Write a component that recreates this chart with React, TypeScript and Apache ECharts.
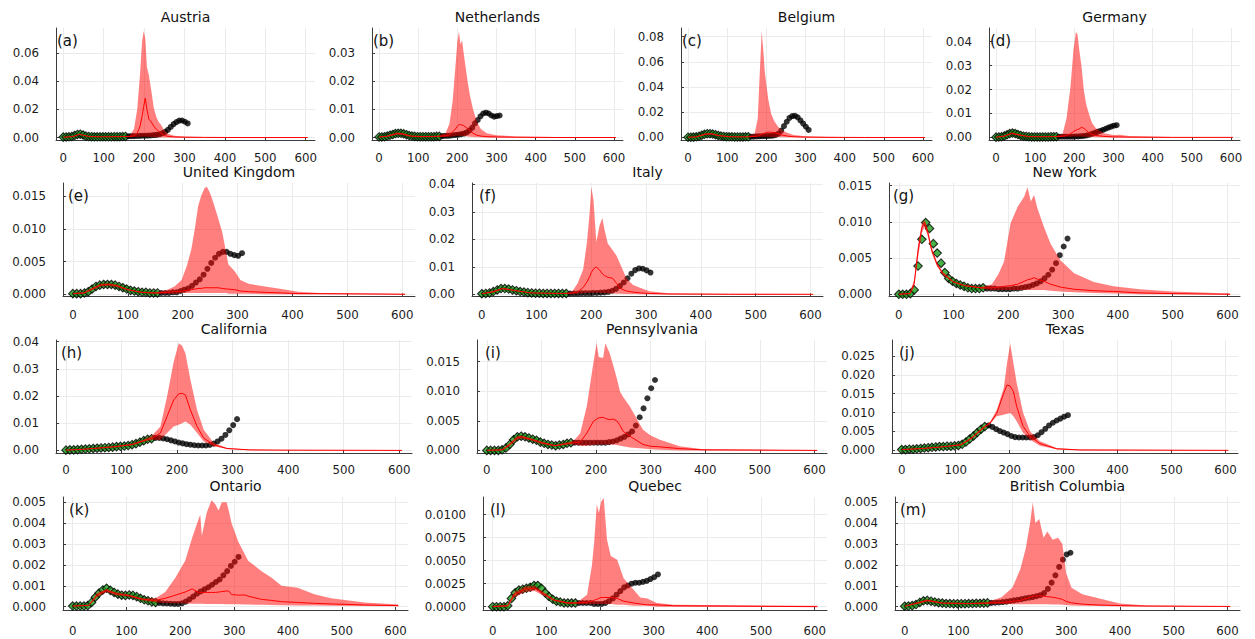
import { useEffect, useRef } from "react";
import * as echarts from "echarts";

const FONT = "DejaVu Sans";
const X_TICKS = [0, 100, 200, 300, 400, 500, 600];
const X_MIN = -18;
const X_MAX = 623;

const TRAIN_DAYS = [0, 7, 14, 21, 28, 35, 42, 49, 56, 63, 70, 77, 84, 91, 98, 105, 112, 119, 126, 133, 140, 147, 154];
const TEST_DAYS = [161, 168, 175, 182, 189, 196, 203, 210, 217, 224, 231, 238, 245, 252, 259, 266, 273, 280, 287, 294, 301, 308];

// band rows: [day, lower, median, upper]
const AUSTRIA_TRAIN = [0.0003, 0.0004, 0.0005, 0.0008, 0.0015, 0.0022, 0.0024, 0.0018, 0.001, 0.0007, 0.0006, 0.0005, 0.0005, 0.0005, 0.0005, 0.0005, 0.0005, 0.0005, 0.0006, 0.0006, 0.0006, 0.0007, 0.0008];
const AUSTRIA_TEST = [0.0009, 0.001, 0.001, 0.0011, 0.0012, 0.0013, 0.0013, 0.0014, 0.0015, 0.0017, 0.0019, 0.0023, 0.003, 0.004, 0.0055, 0.0075, 0.0095, 0.011, 0.012, 0.0121, 0.0112, 0.01];
const AUSTRIA_BAND = [
  [0, 0.0002, 0.0003, 0.0004], [20, 0.0004, 0.0005, 0.0007], [30, 0.001, 0.0013, 0.0016], [40, 0.0019, 0.0023, 0.0027],
  [50, 0.0013, 0.0016, 0.0019], [65, 0.0005, 0.0007, 0.0009], [100, 0.0004, 0.0005, 0.0006], [150, 0.0005, 0.0007, 0.0009],
  [165, 0.0004, 0.0008, 0.0015], [175, 0.0004, 0.0012, 0.006], [183, 0.0004, 0.003, 0.02], [190, 0.0005, 0.008, 0.045],
  [195, 0.0006, 0.015, 0.068], [199, 0.0007, 0.022, 0.0755], [203, 0.0007, 0.028, 0.07], [207, 0.0006, 0.02, 0.05],
  [212, 0.0005, 0.013, 0.044], [218, 0.0004, 0.011, 0.033], [224, 0.0003, 0.008, 0.021], [230, 0.0002, 0.006, 0.015],
  [236, 0.0002, 0.0045, 0.011], [242, 0.0001, 0.003, 0.009], [250, 0.0001, 0.0015, 0.005], [260, 0.0001, 0.0008, 0.0025],
  [275, 0, 0.0004, 0.0012], [300, 0, 0.0002, 0.0007], [350, 0, 0.0001, 0.0004], [450, 0, 0, 0.0002], [605, 0, 0, 0.0001],
];

const NETHERLANDS_TRAIN = [0.0002, 0.0002, 0.0003, 0.0005, 0.0008, 0.0011, 0.0014, 0.0015, 0.0015, 0.0013, 0.001, 0.0007, 0.0005, 0.0004, 0.0003, 0.0003, 0.0003, 0.0003, 0.0003, 0.0003, 0.0003, 0.0004, 0.0004];
const NETHERLANDS_TEST = [0.0005, 0.0006, 0.0006, 0.0007, 0.0008, 0.0009, 0.001, 0.0012, 0.0014, 0.0018, 0.0025, 0.0035, 0.005, 0.0062, 0.0075, 0.0085, 0.0088, 0.0085, 0.0078, 0.0074, 0.0076, 0.0078];
const NETHERLANDS_BAND = [
  [0, 0.0001, 0.0002, 0.0003], [20, 0.0002, 0.0004, 0.0006], [45, 0.001, 0.0014, 0.0018], [60, 0.0009, 0.0013, 0.0017],
  [80, 0.0003, 0.0005, 0.0008], [110, 0.0001, 0.0003, 0.0005], [150, 0.0002, 0.0004, 0.0006], [170, 0.0002, 0.0006, 0.0015],
  [180, 0.0003, 0.001, 0.005], [188, 0.0004, 0.002, 0.013], [195, 0.0005, 0.003, 0.025], [200, 0.0006, 0.004, 0.034],
  [204, 0.0006, 0.0045, 0.0375], [208, 0.0006, 0.0046, 0.033], [212, 0.0006, 0.0044, 0.0345], [216, 0.0005, 0.0042, 0.03],
  [220, 0.0005, 0.0038, 0.026], [226, 0.0004, 0.0032, 0.02], [232, 0.0003, 0.0025, 0.015], [240, 0.0002, 0.0015, 0.01],
  [250, 0.0001, 0.0008, 0.0055], [260, 0.0001, 0.0005, 0.003], [275, 0, 0.0003, 0.0015], [300, 0, 0.0002, 0.0008],
  [350, 0, 0.0001, 0.0004], [450, 0, 0, 0.0002], [605, 0, 0, 0.0001],
];

const BELGIUM_TRAIN = [0.0002, 0.0002, 0.0003, 0.0005, 0.001, 0.0018, 0.0025, 0.003, 0.003, 0.0027, 0.0022, 0.0016, 0.0011, 0.0008, 0.0006, 0.0005, 0.0005, 0.0004, 0.0004, 0.0004, 0.0004, 0.0005, 0.0005];
const BELGIUM_TEST = [0.0006, 0.0007, 0.0008, 0.0009, 0.001, 0.0011, 0.0012, 0.0013, 0.0015, 0.002, 0.003, 0.0055, 0.009, 0.0125, 0.0155, 0.017, 0.0172, 0.016, 0.0135, 0.011, 0.0085, 0.006];
const BELGIUM_BAND = [
  [0, 0.0001, 0.0002, 0.0004], [20, 0.0002, 0.0004, 0.0007], [45, 0.002, 0.0027, 0.0034], [60, 0.0022, 0.0029, 0.0036],
  [80, 0.001, 0.0014, 0.0019], [110, 0.0003, 0.0005, 0.0008], [150, 0.0003, 0.0005, 0.0008], [170, 0.0003, 0.0008, 0.003],
  [178, 0.0004, 0.0012, 0.015], [183, 0.0005, 0.0018, 0.05], [188, 0.0005, 0.0025, 0.084], [192, 0.0005, 0.003, 0.07],
  [196, 0.0005, 0.0035, 0.052], [200, 0.0005, 0.004, 0.042], [205, 0.0005, 0.0042, 0.03], [212, 0.0004, 0.0042, 0.019],
  [220, 0.0004, 0.0038, 0.013], [230, 0.0003, 0.003, 0.0085], [240, 0.0002, 0.002, 0.0055], [255, 0.0001, 0.001, 0.0035],
  [270, 0.0001, 0.0006, 0.002], [300, 0, 0.0003, 0.001], [350, 0, 0.0001, 0.0005], [450, 0, 0, 0.0002], [605, 0, 0, 0.0001],
];

const GERMANY_TRAIN = [0.0001, 0.0002, 0.0003, 0.0006, 0.0011, 0.0016, 0.0018, 0.0016, 0.0012, 0.0008, 0.0005, 0.0004, 0.0003, 0.0002, 0.0002, 0.0002, 0.0002, 0.0002, 0.0002, 0.0002, 0.0003, 0.0003, 0.0003];
const GERMANY_TEST = [0.0003, 0.0003, 0.0003, 0.0003, 0.0003, 0.0003, 0.0004, 0.0004, 0.0005, 0.0006, 0.0008, 0.0011, 0.0015, 0.0019, 0.0023, 0.0027, 0.0031, 0.0036, 0.0041, 0.0045, 0.0049, 0.0051];
const GERMANY_BAND = [
  [0, 0, 0.0001, 0.0002], [20, 0.0003, 0.0005, 0.0007], [40, 0.0013, 0.0017, 0.002], [60, 0.0007, 0.001, 0.0013],
  [85, 0.0002, 0.0003, 0.0004], [150, 0.0002, 0.0003, 0.0004], [170, 0.0002, 0.0005, 0.0015], [180, 0.0003, 0.0008, 0.008],
  [190, 0.0003, 0.0015, 0.021], [198, 0.0004, 0.0025, 0.037], [204, 0.0004, 0.003, 0.044], [208, 0.0004, 0.0033, 0.043],
  [213, 0.0004, 0.0036, 0.036], [218, 0.0004, 0.0042, 0.03], [224, 0.0003, 0.0038, 0.02], [230, 0.0003, 0.003, 0.014],
  [237, 0.0002, 0.002, 0.01], [245, 0.0002, 0.0012, 0.006], [255, 0.0001, 0.0008, 0.0038], [275, 0.0001, 0.0004, 0.0017],
  [300, 0, 0.0002, 0.001], [315, 0, 0.0002, 0.0011], [340, 0, 0.0001, 0.0006], [450, 0, 0, 0.0002], [605, 0, 0, 0.0001],
];

const UK_TRAIN = [0.0001, 0.0001, 0.0001, 0.0002, 0.0004, 0.0008, 0.0012, 0.0014, 0.0015, 0.0015, 0.0015, 0.0014, 0.0012, 0.001, 0.0008, 0.0006, 0.0005, 0.0004, 0.0003, 0.0003, 0.0002, 0.0002, 0.0002];
const UK_TEST = [0.0002, 0.0002, 0.0002, 0.0003, 0.0003, 0.0005, 0.0007, 0.0009, 0.0013, 0.0018, 0.0023, 0.003, 0.0039, 0.0048, 0.0056, 0.0062, 0.0065, 0.0065, 0.0062, 0.006, 0.0059, 0.0063];
const UK_BAND = [
  [0, 0, 0.0001, 0.0002], [20, 0.0001, 0.0002, 0.0003], [35, 0.0006, 0.0008, 0.001], [50, 0.0012, 0.0014, 0.0016],
  [65, 0.0013, 0.0015, 0.0017], [80, 0.0011, 0.0013, 0.0015], [100, 0.0006, 0.0007, 0.0008], [125, 0.0002, 0.0003, 0.0004],
  [150, 0.0001, 0.0002, 0.0003], [170, 0.0001, 0.0003, 0.0006], [185, 0.0001, 0.0004, 0.0012], [198, 0.0002, 0.0005, 0.0022],
  [208, 0.0002, 0.0006, 0.0045], [216, 0.0002, 0.0007, 0.007], [222, 0.0002, 0.0008, 0.01], [228, 0.0002, 0.0009, 0.0135],
  [234, 0.0002, 0.0009, 0.0152], [240, 0.0002, 0.001, 0.0163], [244, 0.0002, 0.001, 0.0165], [250, 0.0002, 0.001, 0.0155],
  [256, 0.0002, 0.001, 0.014], [264, 0.0002, 0.001, 0.0118], [272, 0.0002, 0.0009, 0.0095], [280, 0.0002, 0.0008, 0.006],
  [283, 0.0001, 0.0008, 0.0046], [295, 0.0001, 0.0007, 0.0035], [305, 0.0001, 0.0005, 0.0022], [320, 0.0001, 0.0004, 0.0016],
  [350, 0, 0.0003, 0.0012], [380, 0, 0.0002, 0.0008], [410, 0, 0.0001, 0.0004], [450, 0, 0.0001, 0.0002], [605, 0, 0, 0.0001],
];

const ITALY_TRAIN = [0.0002, 0.0003, 0.0005, 0.001, 0.0016, 0.0021, 0.0021, 0.0019, 0.0016, 0.0013, 0.001, 0.0008, 0.0006, 0.0005, 0.0004, 0.0004, 0.0003, 0.0003, 0.0003, 0.0003, 0.0003, 0.0003, 0.0003];
const ITALY_TEST = [0.0003, 0.0003, 0.0003, 0.0004, 0.0004, 0.0004, 0.0005, 0.0005, 0.0006, 0.0007, 0.0009, 0.0013, 0.002, 0.003, 0.0043, 0.0058, 0.0075, 0.0088, 0.0094, 0.0093, 0.0087, 0.0079];
const ITALY_BAND = [
  [0, 0.0001, 0.0002, 0.0003], [20, 0.0006, 0.0009, 0.0012], [38, 0.0018, 0.0021, 0.0024], [60, 0.0012, 0.0014, 0.0016],
  [90, 0.0004, 0.0005, 0.0006], [150, 0.0002, 0.0003, 0.0004], [165, 0.0002, 0.0004, 0.001], [175, 0.0003, 0.0008, 0.004],
  [185, 0.0004, 0.0025, 0.009], [192, 0.0005, 0.0045, 0.019], [197, 0.0006, 0.0065, 0.03], [200, 0.0006, 0.008, 0.039],
  [204, 0.0006, 0.0092, 0.034], [209, 0.0006, 0.01, 0.019], [215, 0.0006, 0.0088, 0.025], [220, 0.0005, 0.0075, 0.0278],
  [224, 0.0005, 0.0068, 0.0235], [230, 0.0004, 0.0062, 0.0185], [239, 0.0003, 0.0058, 0.016], [246, 0.0002, 0.004, 0.014],
  [252, 0.0002, 0.0022, 0.0113], [264, 0.0001, 0.0012, 0.0058], [276, 0.0001, 0.0008, 0.0034], [290, 0, 0.0005, 0.0023],
  [306, 0, 0.0003, 0.0011], [340, 0, 0.0001, 0.0004], [450, 0, 0, 0.0002], [605, 0, 0, 0.0001],
];

const NEWYORK_TRAIN = [0, 0, 0, 0.0001, 0.0006, 0.0039, 0.0076, 0.0099, 0.0091, 0.007, 0.0057, 0.0043, 0.003, 0.0022, 0.0018, 0.0015, 0.0013, 0.0011, 0.0009, 0.0008, 0.0008, 0.0008, 0.0009];
const NEWYORK_TEST = [0.0008, 0.0008, 0.0008, 0.0007, 0.0007, 0.0007, 0.0007, 0.0008, 0.0008, 0.0009, 0.001, 0.0011, 0.0013, 0.0015, 0.0018, 0.0022, 0.0027, 0.0034, 0.0043, 0.0054, 0.0066, 0.0077];
const NEWYORK_BAND = [
  [0, 0, 0, 0.0001], [20, 0, 0.0001, 0.0002], [28, 0.001, 0.0015, 0.002], [35, 0.005, 0.006, 0.0068],
  [42, 0.0085, 0.0092, 0.0098], [47, 0.0093, 0.0099, 0.0103], [53, 0.008, 0.0085, 0.009], [60, 0.0057, 0.0061, 0.0065],
  [70, 0.0038, 0.0041, 0.0044], [80, 0.0027, 0.0029, 0.0031], [100, 0.0016, 0.0017, 0.0018], [120, 0.0011, 0.0012, 0.0013],
  [150, 0.0008, 0.0009, 0.001], [170, 0.0006, 0.0009, 0.0014], [182, 0.0006, 0.001, 0.0028], [192, 0.0006, 0.0011, 0.0045],
  [204, 0.0006, 0.0012, 0.0098], [217, 0.0006, 0.0014, 0.0121], [229, 0.0006, 0.0018, 0.0135], [235, 0.0006, 0.002, 0.0148],
  [241, 0.0006, 0.0021, 0.0128], [247, 0.0006, 0.0023, 0.0137], [253, 0.0006, 0.0021, 0.0119], [265, 0.0006, 0.0018, 0.0093],
  [277, 0.0005, 0.0014, 0.007], [295, 0.0004, 0.001, 0.0047], [320, 0.0003, 0.0007, 0.0029], [356, 0.0002, 0.0005, 0.0017],
  [392, 0.0001, 0.0004, 0.0011], [440, 0, 0.0002, 0.0007], [500, 0, 0.0001, 0.0004], [605, 0, 0, 0.0001],
];

const CALIFORNIA_TRAIN = [0.0001, 0.0002, 0.0002, 0.0003, 0.0004, 0.0005, 0.0006, 0.0007, 0.0008, 0.0009, 0.001, 0.0011, 0.0012, 0.0014, 0.0015, 0.0016, 0.0018, 0.0021, 0.0025, 0.003, 0.0036, 0.0041, 0.0043];
const CALIFORNIA_TEST = [0.0046, 0.0046, 0.0044, 0.0041, 0.0037, 0.0033, 0.0029, 0.0026, 0.0023, 0.0021, 0.0019, 0.0018, 0.0018, 0.0018, 0.002, 0.0025, 0.0033, 0.0043, 0.0057, 0.0074, 0.0093, 0.0115];
const CALIFORNIA_BAND = [
  [0, 0, 0.0001, 0.0002], [30, 0.0003, 0.0004, 0.0005], [60, 0.0007, 0.0009, 0.0011], [90, 0.0012, 0.0014, 0.0016],
  [120, 0.0019, 0.0022, 0.0025], [140, 0.0032, 0.0036, 0.004], [155, 0.0038, 0.0045, 0.0055], [170, 0.0039, 0.0064, 0.0088],
  [182, 0.0064, 0.0125, 0.0198], [194, 0.0088, 0.0186, 0.0327], [203, 0.0094, 0.0208, 0.0394], [209, 0.01, 0.021, 0.0385],
  [215, 0.0106, 0.0204, 0.0357], [224, 0.0094, 0.0149, 0.026], [236, 0.0064, 0.0088, 0.0149], [248, 0.0033, 0.0045, 0.0076],
  [266, 0.0015, 0.0021, 0.0027], [290, 0.0005, 0.0007, 0.0009], [330, 0.0001, 0.0002, 0.0003], [400, 0, 0.0001, 0.0001], [605, 0, 0, 0],
];

const PENNSYLVANIA_TRAIN = [0, 0, 0, 0, 0.0001, 0.0004, 0.001, 0.0018, 0.0023, 0.0024, 0.0023, 0.0021, 0.0019, 0.0017, 0.0014, 0.0012, 0.001, 0.0009, 0.0008, 0.0009, 0.001, 0.0012, 0.0013];
const PENNSYLVANIA_TEST = [0.0013, 0.0013, 0.0013, 0.0013, 0.0013, 0.0013, 0.0013, 0.0013, 0.0013, 0.0014, 0.0015, 0.0017, 0.002, 0.0023, 0.0027, 0.0032, 0.0042, 0.0056, 0.0071, 0.0088, 0.0105, 0.0119];
const PENNSYLVANIA_BAND = [
  [0, 0, 0, 0.0001], [28, 0, 0.0001, 0.0002], [42, 0.0007, 0.001, 0.0013], [55, 0.0018, 0.0021, 0.0024],
  [63, 0.002, 0.0023, 0.0025], [80, 0.0017, 0.0019, 0.0021], [100, 0.0011, 0.0013, 0.0015], [125, 0.0007, 0.0008, 0.0009],
  [150, 0.001, 0.0012, 0.0014], [160, 0.001, 0.0013, 0.0017], [171, 0.0008, 0.0014, 0.0029], [183, 0.0008, 0.0029, 0.0074],
  [195, 0.0009, 0.0049, 0.0147], [201, 0.001, 0.0053, 0.0181], [205, 0.001, 0.0055, 0.0158], [213, 0.001, 0.0056, 0.0156],
  [217, 0.001, 0.0054, 0.0181], [225, 0.001, 0.0052, 0.0164], [231, 0.001, 0.0053, 0.0145], [238, 0.0009, 0.005, 0.0122],
  [244, 0.0008, 0.0042, 0.0099], [250, 0.0007, 0.0032, 0.009], [262, 0.0005, 0.0024, 0.0074], [286, 0.0003, 0.001, 0.0035],
  [300, 0.0002, 0.0007, 0.0025], [317, 0.0001, 0.0006, 0.0018], [353, 0, 0.0003, 0.0007], [396, 0, 0.0001, 0.0002], [605, 0, 0, 0],
];

const TEXAS_TRAIN = [0.0002, 0.0002, 0.0003, 0.0003, 0.0004, 0.0005, 0.0006, 0.0007, 0.0008, 0.0009, 0.001, 0.001, 0.0011, 0.0011, 0.0012, 0.0013, 0.0016, 0.0022, 0.003, 0.0038, 0.0047, 0.0056, 0.0063];
const TEXAS_TEST = [0.0066, 0.0062, 0.0056, 0.0051, 0.0047, 0.0043, 0.0038, 0.0035, 0.0034, 0.0034, 0.0034, 0.0034, 0.0035, 0.004, 0.0048, 0.0057, 0.0066, 0.0073, 0.0079, 0.0084, 0.0089, 0.0093];
const TEXAS_BAND = [
  [0, 0.0001, 0.0002, 0.0003], [40, 0.0004, 0.0005, 0.0006], [80, 0.0009, 0.001, 0.0011], [110, 0.0013, 0.0015, 0.0017],
  [130, 0.003, 0.0033, 0.0036], [150, 0.0055, 0.0058, 0.0062], [164, 0.007, 0.0073, 0.0076], [176, 0.009, 0.0098, 0.0107],
  [189, 0.0094, 0.0151, 0.0165], [195, 0.0097, 0.0173, 0.023], [201, 0.0099, 0.017, 0.0283], [207, 0.009, 0.0155, 0.023],
  [213, 0.0077, 0.0116, 0.0178], [225, 0.0046, 0.0063, 0.0099], [238, 0.0028, 0.0037, 0.005], [256, 0.0012, 0.0018, 0.0024],
  [287, 0.0003, 0.0004, 0.0006], [330, 0, 0.0001, 0.0002], [605, 0, 0, 0],
];

const ONTARIO_TRAIN = [0.00003, 0.00003, 0.00003, 0.00003, 0.00005, 0.0002, 0.00045, 0.00065, 0.0008, 0.00088, 0.00078, 0.00068, 0.0006, 0.00055, 0.00054, 0.00056, 0.00054, 0.00048, 0.0004, 0.00033, 0.00028, 0.00023, 0.0002];
const ONTARIO_TEST = [0.00018, 0.00016, 0.00015, 0.00014, 0.00013, 0.00013, 0.00016, 0.00024, 0.00035, 0.00048, 0.00062, 0.00073, 0.00083, 0.00093, 0.00105, 0.00118, 0.0013, 0.0015, 0.0017, 0.00195, 0.00215, 0.00238];
const ONTARIO_BAND = [
  [0, 0.00001, 0.00003, 0.00005], [30, 0.00003, 0.00006, 0.00009], [45, 0.00045, 0.00055, 0.00065], [63, 0.0007, 0.00078, 0.00086],
  [80, 0.00055, 0.00062, 0.00069], [105, 0.00048, 0.00053, 0.00058], [130, 0.0003, 0.00035, 0.0004], [154, 0.0002, 0.0003, 0.0004],
  [172, 0.00018, 0.0004, 0.0007], [191, 0.00016, 0.00055, 0.0014], [209, 0.00015, 0.0007, 0.0022], [222, 0.00014, 0.00085, 0.0033],
  [234, 0.00014, 0.00068, 0.0042], [237, 0.00014, 0.00068, 0.0044], [240, 0.00014, 0.00068, 0.0034], [249, 0.00013, 0.00068, 0.0045],
  [258, 0.00013, 0.00068, 0.0051], [265, 0.00013, 0.00068, 0.0049], [271, 0.00013, 0.0007, 0.0046], [277, 0.00013, 0.00072, 0.005],
  [286, 0.00012, 0.00075, 0.005], [290, 0.00012, 0.00075, 0.0046], [295, 0.00012, 0.00058, 0.004], [308, 0.00011, 0.00055, 0.0031],
  [320, 0.0001, 0.00056, 0.0025], [326, 0.0001, 0.0005, 0.0022], [351, 0.00009, 0.00035, 0.0017], [369, 0.00008, 0.0003, 0.0014],
  [388, 0.00007, 0.00024, 0.001], [418, 0.00006, 0.0002, 0.0009], [449, 0.00005, 0.00016, 0.0006], [480, 0.00004, 0.00013, 0.0004],
  [542, 0.00003, 0.00008, 0.0002], [605, 0.00002, 0.00005, 0.0001],
];

const QUEBEC_TRAIN = [0, 0, 0, 0, 0.0001, 0.0009, 0.0015, 0.0018, 0.0019, 0.002, 0.0021, 0.0023, 0.0023, 0.002, 0.0015, 0.0011, 0.0008, 0.0006, 0.0005, 0.0004, 0.0004, 0.0004, 0.0004];
const QUEBEC_TEST = [0.0004, 0.0004, 0.0004, 0.0004, 0.0003, 0.0003, 0.0003, 0.0004, 0.0006, 0.0009, 0.0013, 0.0017, 0.0021, 0.0023, 0.0025, 0.0026, 0.0026, 0.0027, 0.0028, 0.003, 0.0032, 0.0035];
const QUEBEC_BAND = [
  [0, 0, 0, 0.0001], [28, 0, 0.0001, 0.0002], [40, 0.001, 0.0013, 0.0016], [60, 0.0016, 0.0019, 0.0022],
  [78, 0.0017, 0.002, 0.0023], [95, 0.0012, 0.0014, 0.0016], [115, 0.0006, 0.0007, 0.0008], [140, 0.0003, 0.0004, 0.0005],
  [158, 0.0003, 0.0004, 0.0005], [176, 0.0003, 0.0005, 0.0013], [185, 0.0003, 0.0006, 0.0045], [189, 0.0003, 0.0007, 0.0069],
  [194, 0.0003, 0.0008, 0.0111], [198, 0.0003, 0.0009, 0.0102], [202, 0.0003, 0.001, 0.0114], [207, 0.0003, 0.001, 0.0118],
  [213, 0.0003, 0.001, 0.0073], [220, 0.0003, 0.001, 0.0055], [232, 0.0002, 0.0009, 0.0051], [244, 0.0002, 0.0006, 0.0031],
  [263, 0.0001, 0.0004, 0.0018], [275, 0.0001, 0.0003, 0.001], [288, 0.0001, 0.0002, 0.0009], [306, 0, 0.0002, 0.0004],
  [337, 0, 0.0001, 0.0002], [605, 0, 0, 0.0001],
];

const BC_TRAIN = [0.00002, 0.00003, 0.00005, 0.0001, 0.0002, 0.00028, 0.0003, 0.00026, 0.00022, 0.00019, 0.00017, 0.00015, 0.00015, 0.00014, 0.00014, 0.00014, 0.00014, 0.00015, 0.00015, 0.00016, 0.00016, 0.00017, 0.00018];
const BC_TEST = [0.00018, 0.00019, 0.0002, 0.00022, 0.00024, 0.00027, 0.0003, 0.00033, 0.00036, 0.0004, 0.00043, 0.00046, 0.0005, 0.00055, 0.00065, 0.00085, 0.00115, 0.0015, 0.0019, 0.00225, 0.0025, 0.00258];
const BC_BAND = [
  [0, 0.00001, 0.00002, 0.00003], [28, 0.00015, 0.0002, 0.00025], [42, 0.00025, 0.0003, 0.00035], [70, 0.00014, 0.00017, 0.0002],
  [120, 0.00012, 0.00015, 0.00018], [154, 0.00013, 0.00017, 0.00022], [180, 0.00013, 0.0002, 0.00045], [200, 0.00012, 0.00025, 0.0009],
  [215, 0.00012, 0.0003, 0.0018], [225, 0.00012, 0.00038, 0.0028], [233, 0.00012, 0.00045, 0.004], [238, 0.00012, 0.0005, 0.005],
  [243, 0.00012, 0.0005, 0.004], [250, 0.00012, 0.00052, 0.0042], [258, 0.00011, 0.0005, 0.0033], [265, 0.00011, 0.00048, 0.0036],
  [275, 0.0001, 0.00045, 0.0032], [285, 0.0001, 0.0004, 0.0033], [293, 0.00009, 0.00035, 0.003], [300, 0.00008, 0.00025, 0.0016],
  [310, 0.00006, 0.00018, 0.0009], [330, 0.00004, 0.00012, 0.0006], [360, 0.00003, 0.00008, 0.0004], [400, 0.00002, 0.00005, 0.00015],
  [450, 0.00001, 0.00003, 0.00006], [605, 0, 0.00001, 0.00002],
];

const PANELS = [
  { name: "Austria", tag: "(a)", band: AUSTRIA_BAND, train: AUSTRIA_TRAIN, test: AUSTRIA_TEST, yMin: -0.0021, yMax: 0.0777, yTicks: [0, 0.02, 0.04, 0.06], dec: 2 },
  { name: "Netherlands", tag: "(b)", band: NETHERLANDS_BAND, train: NETHERLANDS_TRAIN, test: NETHERLANDS_TEST, yMin: -0.00106, yMax: 0.0388, yTicks: [0, 0.01, 0.02, 0.03], dec: 2 },
  { name: "Belgium", tag: "(c)", band: BELGIUM_BAND, train: BELGIUM_TRAIN, test: BELGIUM_TEST, yMin: -0.0024, yMax: 0.0869, yTicks: [0, 0.02, 0.04, 0.06, 0.08], dec: 2 },
  { name: "Germany", tag: "(d)", band: GERMANY_BAND, train: GERMANY_TRAIN, test: GERMANY_TEST, yMin: -0.0013, yMax: 0.0457, yTicks: [0, 0.01, 0.02, 0.03, 0.04], dec: 2 },
  { name: "United Kingdom", tag: "(e)", band: UK_BAND, train: UK_TRAIN, test: UK_TEST, yMin: -0.00034, yMax: 0.01706, yTicks: [0, 0.005, 0.01, 0.015], dec: 3 },
  { name: "Italy", tag: "(f)", band: ITALY_BAND, train: ITALY_TRAIN, test: ITALY_TEST, yMin: -0.0008, yMax: 0.0405, yTicks: [0, 0.01, 0.02, 0.03, 0.04], dec: 2 },
  { name: "New York", tag: "(g)", band: NEWYORK_BAND, train: NEWYORK_TRAIN, test: NEWYORK_TEST, yMin: -0.0003, yMax: 0.01537, yTicks: [0, 0.005, 0.01, 0.015], dec: 3 },
  { name: "California", tag: "(h)", band: CALIFORNIA_BAND, train: CALIFORNIA_TRAIN, test: CALIFORNIA_TEST, yMin: -0.00095, yMax: 0.0406, yTicks: [0, 0.01, 0.02, 0.03, 0.04], dec: 2 },
  { name: "Pennsylvania", tag: "(i)", band: PENNSYLVANIA_BAND, train: PENNSYLVANIA_TRAIN, test: PENNSYLVANIA_TEST, yMin: -0.00044, yMax: 0.01866, yTicks: [0, 0.005, 0.01, 0.015], dec: 3 },
  { name: "Texas", tag: "(j)", band: TEXAS_BAND, train: TEXAS_TRAIN, test: TEXAS_TEST, yMin: -0.0007, yMax: 0.0292, yTicks: [0, 0.005, 0.01, 0.015, 0.02, 0.025], dec: 3 },
  { name: "Ontario", tag: "(k)", band: ONTARIO_BAND, train: ONTARIO_TRAIN, test: ONTARIO_TEST, yMin: -0.00016, yMax: 0.00525, yTicks: [0, 0.001, 0.002, 0.003, 0.004, 0.005], dec: 3 },
  { name: "Quebec", tag: "(l)", band: QUEBEC_BAND, train: QUEBEC_TRAIN, test: QUEBEC_TEST, yMin: -0.00036, yMax: 0.01191, yTicks: [0, 0.0025, 0.005, 0.0075, 0.01], dec: 4 },
  { name: "British Columbia", tag: "(m)", band: BC_BAND, train: BC_TRAIN, test: BC_TEST, yMin: -0.00016, yMax: 0.00525, yTicks: [0, 0.001, 0.002, 0.003, 0.004, 0.005], dec: 3 },
];

// layout: plot-area edges in px, tag offset, x-label margin
const LAYOUT = [
  { l: 56, r: 315, t: 28, b: 140.5, dx: 1, xm: 11 },
  { l: 372, r: 623, t: 28, b: 140.5, dx: 1, xm: 11 },
  { l: 681, r: 932, t: 28, b: 140.5, dx: 1, xm: 11 },
  { l: 989, r: 1240, t: 28, b: 140.5, dx: 1, xm: 11 },
  { l: 63, r: 415, t: 183, b: 296.5, dx: 5, xm: 12 },
  { l: 472, r: 823, t: 183, b: 296.5, dx: 7, xm: 12 },
  { l: 889, r: 1240, t: 183, b: 296.5, dx: 4, xm: 12 },
  { l: 56, r: 412, t: 340, b: 453, dx: 5, xm: 11 },
  { l: 477, r: 827, t: 340, b: 453, dx: 8, xm: 11 },
  { l: 892, r: 1238, t: 340, b: 453, dx: 7, xm: 11 },
  { l: 63, r: 408, t: 497, b: 610, dx: 6, xm: 15 },
  { l: 483, r: 827, t: 497, b: 610, dx: 7, xm: 15 },
  { l: 895, r: 1240, t: 497, b: 610, dx: 5, xm: 15 },
];

const AXIS_COLOR = "#3c3c3c";
const GRID_COLOR = "#ebebeb";
const TEXT_COLOR = "#1a1a1a";

function buildOption() {
  const grid: any[] = [];
  const xAxis: any[] = [];
  const yAxis: any[] = [];
  const series: any[] = [];
  const graphic: any[] = [];

  PANELS.forEach((p, i) => {
    const L = LAYOUT[i];
    grid.push({ left: L.l, top: L.t, width: L.r - L.l, height: L.b - L.t, containLabel: false });
    xAxis.push({
      type: "value",
      gridIndex: i,
      min: X_MIN,
      max: X_MAX,
      axisLine: { show: true, onZero: false, lineStyle: { color: AXIS_COLOR, width: 1 } },
      axisTick: { show: true, inside: true, length: 3, customValues: X_TICKS, lineStyle: { color: AXIS_COLOR } },
      axisLabel: { customValues: X_TICKS, margin: L.xm, fontSize: 11.8, fontFamily: FONT, color: TEXT_COLOR },
      splitLine: { show: true, lineStyle: { color: GRID_COLOR, width: 1 } },
    });
    yAxis.push({
      type: "value",
      gridIndex: i,
      min: p.yMin,
      max: p.yMax,
      axisLine: { show: true, onZero: false, lineStyle: { color: AXIS_COLOR, width: 1 } },
      axisTick: { show: true, inside: true, length: 3, customValues: p.yTicks, lineStyle: { color: AXIS_COLOR } },
      axisLabel: {
        customValues: p.yTicks,
        margin: 17,
        fontSize: 11.8,
        fontFamily: FONT,
        color: TEXT_COLOR,
        formatter: (v: number) => Number(v).toFixed(p.dec),
      },
      splitLine: { show: true, lineStyle: { color: GRID_COLOR, width: 1 } },
    });

    series.push({
      type: "scatter",
      xAxisIndex: i,
      yAxisIndex: i,
      silent: true,
      z: 2,
      symbol: "diamond",
      symbolSize: 8.5,
      itemStyle: { color: "#1c9e1c", borderColor: "#000", borderWidth: 1.1 },
      data: TRAIN_DAYS.map((d, k) => [d, p.train[k]]),
    });
    series.push({
      type: "scatter",
      xAxisIndex: i,
      yAxisIndex: i,
      silent: true,
      z: 2,
      symbol: "circle",
      symbolSize: 6,
      itemStyle: { color: "#000" },
      data: TEST_DAYS.map((d, k) => [d, p.test[k]]),
    });
    series.push({
      type: "custom",
      xAxisIndex: i,
      yAxisIndex: i,
      silent: true,
      z: 3,
      data: [[0, 0]],
      renderItem: (_params: any, api: any) => {
        const upper = p.band.map((r) => api.coord([r[0], r[3]]));
        const lower = p.band.slice().reverse().map((r) => api.coord([r[0], r[1]]));
        return {
          type: "polygon",
          shape: { points: upper.concat(lower) },
          style: { fill: "rgba(255,0,0,0.5)", stroke: "none" },
        };
      },
    });
    series.push({
      type: "line",
      xAxisIndex: i,
      yAxisIndex: i,
      silent: true,
      z: 4,
      showSymbol: false,
      symbol: "none",
      lineStyle: { color: "#ff0000", width: 1 },
      data: p.band.map((r) => [r[0], r[2]]),
    });

    graphic.push({
      type: "text",
      x: (L.l + L.r) / 2,
      y: L.t - 11,
      style: {
        text: p.name,
        fontSize: 14,
        fontFamily: FONT,
        fill: "#111",
        align: "center",
        verticalAlign: "middle",
        textAlign: "center",
        textVerticalAlign: "middle",
      },
    });
    graphic.push({
      type: "text",
      x: L.l + L.dx,
      y: L.t + 12.5,
      z: 10,
      style: {
        text: p.tag,
        fontSize: 15,
        fontFamily: FONT,
        fill: "#111",
        align: "left",
        verticalAlign: "middle",
        textAlign: "left",
        textVerticalAlign: "middle",
      },
    });
  });

  return {
    animation: false,
    backgroundColor: "#ffffff",
    grid,
    xAxis,
    yAxis,
    series,
    graphic,
  };
}

export default function App() {
  const ref = useRef<HTMLDivElement>(null);
  useEffect(() => {
    if (!ref.current) return;
    const chart = echarts.init(ref.current, undefined, { renderer: "svg" });
    chart.setOption(buildOption() as any);
    return () => chart.dispose();
  }, []);
  return (
    <div
      ref={ref}
      style={{ position: "fixed", left: 0, top: 0, width: 1255, height: 639, background: "#fff" }}
    />
  );
}
